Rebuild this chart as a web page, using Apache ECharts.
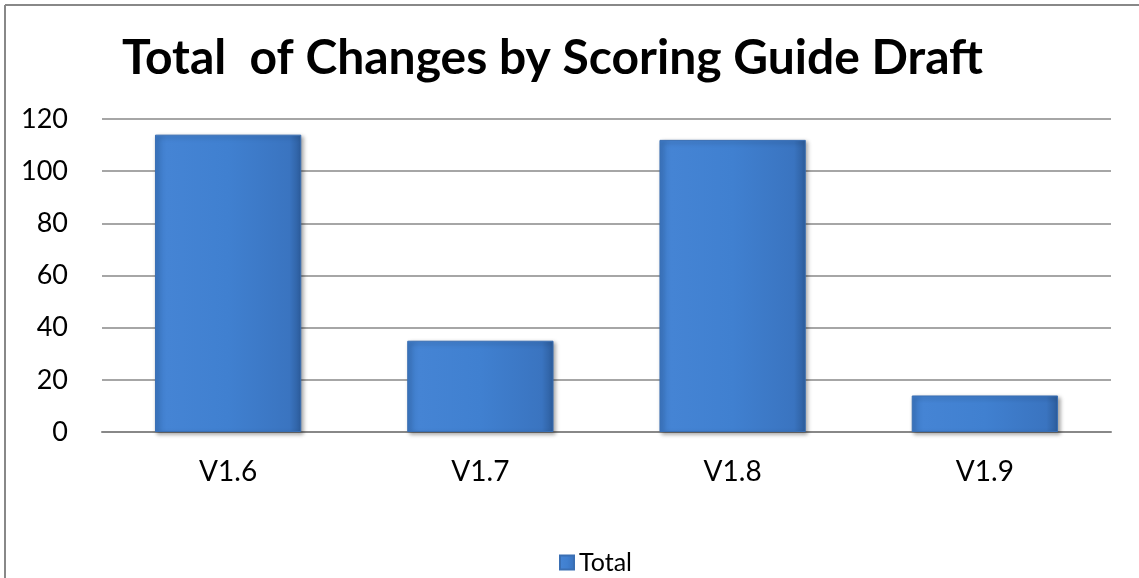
<!DOCTYPE html>
<html><head><meta charset="utf-8">
<script src="https://cdn.jsdelivr.net/npm/echarts@6/dist/echarts.min.js"></script>
<style>html,body{margin:0;padding:0;background:#fff}#c{width:1139px;height:578px}</style>
</head><body><div id="c"></div>
<script>
const categories = ["V1.6", "V1.7", "V1.8", "V1.9"];
const totalValues = [114, 35, 112, 14];
const yTicks = [0, 20, 40, 60, 80, 100, 120];
const seriesName = "Total";
const titleText = "Total  of Changes by Scoring Guide Draft";

const chart = echarts.init(document.getElementById('c'));
const barColor = new echarts.graphic.LinearGradient(0, 0, 1, 0, [
  {offset: 0, color: '#3c78c4'},
  {offset: 0.08, color: '#4584d4'},
  {offset: 0.5, color: '#4080d0'},
  {offset: 0.92, color: '#3a74c0'},
  {offset: 1, color: '#2d5d9c'}
]);
chart.setOption({
  animation: false,
  backgroundColor: '#fff',
  textStyle: {fontFamily: 'Lato'},
  title: {
    text: titleText, left: 117, top: 30,
    textStyle: {fontFamily: 'Lato', fontWeight: 'bold', fontSize: 48, color: '#000'}
  },
  legend: {
    data: [seriesName], top: 545, left: 554, itemWidth: 14, itemHeight: 14,
    icon: 'rect',
    textStyle: {fontFamily: 'Lato', fontSize: 25, color: '#000'},
    itemGap: 6
  },
  grid: {left: 102, right: 28, top: 119, bottom: 146},
  xAxis: {
    type: 'category', data: categories,
    axisLine: {lineStyle: {color: '#888', width: 2}},
    axisTick: {show: false},
    axisLabel: {fontFamily: 'Lato', fontSize: 28, color: '#000', margin: 26}
  },
  yAxis: {
    type: 'value', min: yTicks[0], max: yTicks[yTicks.length - 1], interval: 20,
    axisLine: {show: false}, axisTick: {show: false},
    splitLine: {lineStyle: {color: '#888', width: 1.5}},
    axisLabel: {fontFamily: 'Lato', fontSize: 27, color: '#000', margin: 34}
  },
  series: [{
    name: seriesName, type: 'bar', data: totalValues,
    barCategoryGap: '42%',
    itemStyle: {
      color: barColor, borderColor: '#3a6fb3', borderWidth: 1,
      shadowColor: 'rgba(0,0,0,0.35)', shadowBlur: 4, shadowOffsetX: 2, shadowOffsetY: 2
    }
  }],
  graphic: [
    {type: 'line', shape: {x1: 5, y1: 5, x2: 1139, y2: 5}, style: {stroke: '#888', lineWidth: 2}},
    {type: 'line', shape: {x1: 5, y1: 5, x2: 5, y2: 578}, style: {stroke: '#888', lineWidth: 2}}
  ]
});
</script></body></html>
